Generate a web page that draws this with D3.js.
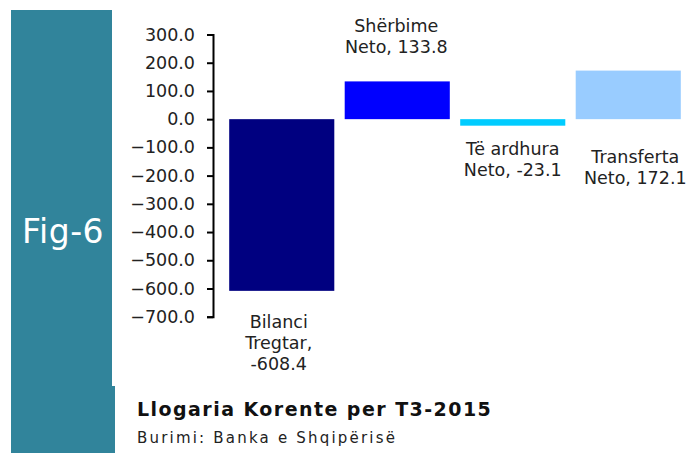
<!DOCTYPE html>
<html>
<head>
<meta charset="utf-8">
<script src="https://cdn.jsdelivr.net/npm/d3@7"></script>
<style>
  body { margin: 0; background: #fff; }
  svg { display: block; font-family: "DejaVu Sans", sans-serif; }
</style>
</head>
<body>
<svg id="chart"></svg>
<script>
// data
const categories = ["Bilanci Tregtar", "Shërbime Neto", "Të ardhura Neto", "Transferta Neto"];
const values = [-608.4, 133.8, -23.1, 172.1];
const labelLines = [
    ["Bilanci", "Tregtar,", "-608.4"],
    ["Shërbime", "Neto, 133.8"],
    ["Të ardhura", "Neto, -23.1"],
    ["Transferta", "Neto, 172.1"]
];
const yTicks = [300, 200, 100, 0, -100, -200, -300, -400, -500, -600, -700];
const barColors = ["#000080", "#0000ff", "#00ccff", "#99ccff"];

const width = 689, height = 453;
const svg = d3.select("#chart").attr("width", width).attr("height", height);

// teal side band
const teal = "#31849b";
svg.append("rect").attr("x", 11).attr("y", 10).attr("width", 101).attr("height", 376).attr("fill", teal);
svg.append("rect").attr("x", 11).attr("y", 386).attr("width", 104).attr("height", 67).attr("fill", teal);
svg.append("text")
    .attr("x", 22).attr("y", 243)
    .attr("fill", "#fff")
    .style("font-size", "33px")
    .style("letter-spacing", "0.5px")
    .text("Fig-6");

const x = d3.scaleBand()
    .domain(categories)
    .range([224, 686])
    .paddingInner(0.09)
    .paddingOuter(0.045);

const y = d3.scaleLinear()
    .domain([-700, 300])
    .range([316.7, 34.5]);

// bars
svg.selectAll("rect.bar")
    .data(values)
    .enter()
    .append("rect")
    .attr("class", "bar")
    .attr("x", (d, i) => x(categories[i]))
    .attr("width", x.bandwidth())
    .attr("y", d => y(Math.max(0, d)))
    .attr("height", d => Math.abs(y(d) - y(0)))
    .attr("fill", (d, i) => barColors[i]);

// y axis
const yAxis = d3.axisLeft(y)
    .tickValues(yTicks)
    .tickFormat(d3.format(".1f"))
    .tickSize(6)
    .tickPadding(12);

const ax = svg.append("g")
    .attr("transform", "translate(213,0)")
    .call(yAxis);
ax.select(".domain").attr("stroke", "#000").attr("stroke-width", 2);
ax.selectAll(".tick line").attr("stroke", "#000").attr("stroke-width", 2);
ax.selectAll(".tick text")
    .attr("fill", "#222")
    .style("font-size", "17.5px")
    .style("font-family", "DejaVu Sans, sans-serif");

// data labels (layout only: first baseline and horizontal nudge)
const labelLayout = [
    { y: 328, dx: -3 },
    { y: 31.5, dx: -1 },
    { y: 155, dx: 0 },
    { y: 163, dx: 7 }
];
const lineGap = 21;

labelLines.forEach((lines, i) => {
    const cx = x(categories[i]) + x.bandwidth() / 2 + labelLayout[i].dx;
    const t = svg.append("text")
        .attr("text-anchor", "middle")
        .attr("fill", "#222")
        .style("font-size", "17.5px");
    lines.forEach((s, j) => {
        t.append("tspan")
            .attr("x", cx)
            .attr("y", labelLayout[i].y + j * lineGap)
            .text(s);
    });
});

// title and source
svg.append("text")
    .attr("x", 137).attr("y", 416)
    .attr("fill", "#111")
    .style("font-size", "19px")
    .style("font-weight", "bold")
    .style("letter-spacing", "1.45px")
    .text("Llogaria Korente per T3-2015");

svg.append("text")
    .attr("x", 137).attr("y", 443)
    .attr("fill", "#222")
    .style("font-size", "15px")
    .style("letter-spacing", "2.2px")
    .text("Burimi: Banka e Shqipërisë");
</script>
</body>
</html>
